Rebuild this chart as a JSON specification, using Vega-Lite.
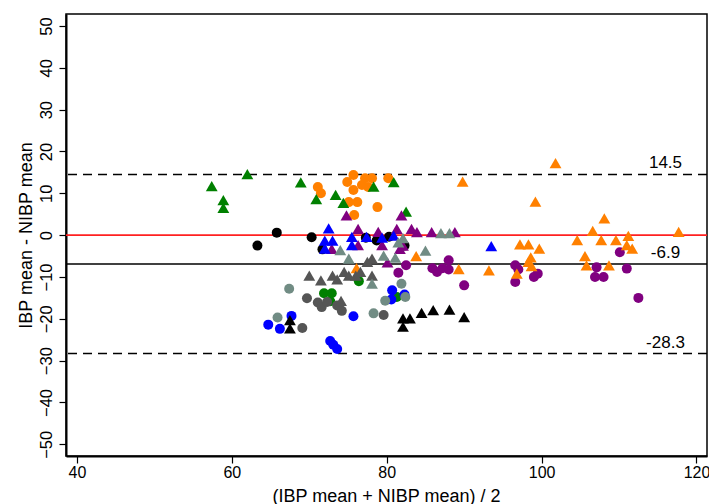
{
  "$schema": "https://vega.github.io/schema/vega-lite/v6.json",
  "width": 641,
  "height": 442,
  "autosize": {"type": "none"},
  "padding": {"left": 66, "top": 14, "right": 2, "bottom": 48},
  "config": {
    "view": {"stroke": "#000000", "strokeWidth": 1.5},
    "font": "Liberation Sans"
  },
  "datasets": {
    "refs": [
      {"y": 14.5, "label": "14.5", "kind": "limit"},
      {"y": -6.9, "label": "-6.9", "kind": "mean"},
      {"y": -28.3, "label": "-28.3", "kind": "limit"},
      {"y": 0, "label": "", "kind": "zero"}
    ],
    "pts": [
      {"x": 57.4, "y": 11.7, "g": "green", "s": "tri"},
      {"x": 62.0, "y": 14.6, "g": "green", "s": "tri"},
      {"x": 58.9, "y": 8.4, "g": "green", "s": "tri"},
      {"x": 58.9, "y": 6.5, "g": "green", "s": "tri"},
      {"x": 68.9, "y": 12.6, "g": "green", "s": "tri"},
      {"x": 70.9, "y": 8.6, "g": "green", "s": "tri"},
      {"x": 73.4, "y": 9.6, "g": "green", "s": "tri"},
      {"x": 74.4, "y": 7.7, "g": "green", "s": "tri"},
      {"x": 78.3, "y": 11.6, "g": "green", "s": "tri"},
      {"x": 80.9, "y": 12.7, "g": "green", "s": "tri"},
      {"x": 82.5, "y": 5.6, "g": "green", "s": "tri"},
      {"x": 71.9, "y": -13.9, "g": "green", "s": "circ"},
      {"x": 72.9, "y": -13.9, "g": "green", "s": "circ"},
      {"x": 72.7, "y": -15.8, "g": "green", "s": "circ"},
      {"x": 76.4, "y": -11.0, "g": "green", "s": "circ"},
      {"x": 81.3, "y": -14.8, "g": "green", "s": "circ"},
      {"x": 71.1, "y": 11.5, "g": "orange", "s": "circ"},
      {"x": 71.5, "y": 10.0, "g": "orange", "s": "circ"},
      {"x": 75.7, "y": 14.4, "g": "orange", "s": "circ"},
      {"x": 74.9, "y": 12.7, "g": "orange", "s": "circ"},
      {"x": 77.2, "y": 13.6, "g": "orange", "s": "circ"},
      {"x": 78.1, "y": 13.6, "g": "orange", "s": "circ"},
      {"x": 80.2, "y": 13.6, "g": "orange", "s": "circ"},
      {"x": 76.8, "y": 12.0, "g": "orange", "s": "circ"},
      {"x": 77.6, "y": 11.5, "g": "orange", "s": "circ"},
      {"x": 75.7, "y": 10.8, "g": "orange", "s": "circ"},
      {"x": 75.1, "y": 7.9, "g": "orange", "s": "circ"},
      {"x": 76.2, "y": 7.9, "g": "orange", "s": "circ"},
      {"x": 78.8, "y": 6.7, "g": "orange", "s": "circ"},
      {"x": 75.8, "y": 4.8, "g": "orange", "s": "circ"},
      {"x": 89.8, "y": 12.8, "g": "orange", "s": "tri"},
      {"x": 101.8, "y": 17.2, "g": "orange", "s": "tri"},
      {"x": 99.2, "y": 8.0, "g": "orange", "s": "tri"},
      {"x": 108.1, "y": 4.0, "g": "orange", "s": "tri"},
      {"x": 106.6, "y": 1.0, "g": "orange", "s": "tri"},
      {"x": 104.6, "y": -1.2, "g": "orange", "s": "tri"},
      {"x": 107.7, "y": -1.2, "g": "orange", "s": "tri"},
      {"x": 109.6, "y": -1.2, "g": "orange", "s": "tri"},
      {"x": 111.2, "y": -0.2, "g": "orange", "s": "tri"},
      {"x": 111.0, "y": -2.4, "g": "orange", "s": "tri"},
      {"x": 111.7, "y": -3.2, "g": "orange", "s": "tri"},
      {"x": 117.7, "y": 0.8, "g": "orange", "s": "tri"},
      {"x": 97.2, "y": -2.2, "g": "orange", "s": "tri"},
      {"x": 98.3, "y": -2.2, "g": "orange", "s": "tri"},
      {"x": 99.7, "y": -3.2, "g": "orange", "s": "tri"},
      {"x": 98.6, "y": -5.3, "g": "orange", "s": "tri"},
      {"x": 98.3, "y": -6.4, "g": "orange", "s": "tri"},
      {"x": 98.7, "y": -7.4, "g": "orange", "s": "tri"},
      {"x": 96.8, "y": -9.2, "g": "orange", "s": "tri"},
      {"x": 93.2, "y": -8.4, "g": "orange", "s": "tri"},
      {"x": 105.6, "y": -5.0, "g": "orange", "s": "tri"},
      {"x": 105.8, "y": -7.2, "g": "orange", "s": "tri"},
      {"x": 108.7, "y": -7.2, "g": "orange", "s": "tri"},
      {"x": 89.3, "y": -8.1, "g": "orange", "s": "tri"},
      {"x": 83.8, "y": -5.0, "g": "orange", "s": "tri"},
      {"x": 76.1, "y": -7.9, "g": "orange", "s": "tri"},
      {"x": 90.0, "y": -12.0, "g": "purple", "s": "circ"},
      {"x": 96.6, "y": -7.2, "g": "purple", "s": "circ"},
      {"x": 97.0, "y": -8.2, "g": "purple", "s": "circ"},
      {"x": 96.6, "y": -11.2, "g": "purple", "s": "circ"},
      {"x": 99.0, "y": -10.0, "g": "purple", "s": "circ"},
      {"x": 99.5, "y": -9.2, "g": "purple", "s": "circ"},
      {"x": 107.1, "y": -7.7, "g": "purple", "s": "circ"},
      {"x": 106.9, "y": -10.0, "g": "purple", "s": "circ"},
      {"x": 108.0, "y": -10.0, "g": "purple", "s": "circ"},
      {"x": 110.1, "y": -4.1, "g": "purple", "s": "circ"},
      {"x": 111.0, "y": -8.0, "g": "purple", "s": "circ"},
      {"x": 112.5, "y": -15.0, "g": "purple", "s": "circ"},
      {"x": 88.0, "y": -6.0, "g": "purple", "s": "circ"},
      {"x": 82.5, "y": -7.2, "g": "purple", "s": "circ"},
      {"x": 81.5, "y": -9.0, "g": "purple", "s": "circ"},
      {"x": 85.9, "y": -7.9, "g": "purple", "s": "circ"},
      {"x": 86.5, "y": -8.8, "g": "purple", "s": "circ"},
      {"x": 87.2, "y": -7.9, "g": "purple", "s": "circ"},
      {"x": 88.0, "y": -8.2, "g": "purple", "s": "circ"},
      {"x": 74.8, "y": 4.7, "g": "purple", "s": "tri"},
      {"x": 81.9, "y": 4.7, "g": "purple", "s": "tri"},
      {"x": 76.3, "y": 1.5, "g": "purple", "s": "tri"},
      {"x": 78.9, "y": 0.8, "g": "purple", "s": "tri"},
      {"x": 81.3, "y": 1.5, "g": "purple", "s": "tri"},
      {"x": 83.2, "y": 1.5, "g": "purple", "s": "tri"},
      {"x": 83.9, "y": 0.7, "g": "purple", "s": "tri"},
      {"x": 85.8, "y": 0.7, "g": "purple", "s": "tri"},
      {"x": 88.8, "y": 0.7, "g": "purple", "s": "tri"},
      {"x": 72.9, "y": -3.3, "g": "purple", "s": "tri"},
      {"x": 76.3, "y": -2.4, "g": "purple", "s": "tri"},
      {"x": 79.4, "y": -2.4, "g": "purple", "s": "tri"},
      {"x": 82.1, "y": -2.5, "g": "purple", "s": "tri"},
      {"x": 81.7, "y": -3.3, "g": "purple", "s": "tri"},
      {"x": 80.1, "y": -6.5, "g": "purple", "s": "tri"},
      {"x": 72.5, "y": 1.6, "g": "blue", "s": "tri"},
      {"x": 72.0, "y": -1.3, "g": "blue", "s": "tri"},
      {"x": 73.0, "y": -1.3, "g": "blue", "s": "tri"},
      {"x": 72.0, "y": -3.2, "g": "blue", "s": "tri"},
      {"x": 75.5, "y": -0.4, "g": "blue", "s": "tri"},
      {"x": 75.5, "y": -2.4, "g": "blue", "s": "tri"},
      {"x": 77.4, "y": -0.4, "g": "blue", "s": "tri"},
      {"x": 79.4, "y": -0.6, "g": "blue", "s": "tri"},
      {"x": 80.9, "y": -0.1, "g": "blue", "s": "tri"},
      {"x": 93.5, "y": -2.6, "g": "blue", "s": "tri"},
      {"x": 64.7, "y": -21.4, "g": "blue", "s": "circ"},
      {"x": 66.2, "y": -22.4, "g": "blue", "s": "circ"},
      {"x": 67.7, "y": -19.3, "g": "blue", "s": "circ"},
      {"x": 72.7, "y": -25.3, "g": "blue", "s": "circ"},
      {"x": 73.1, "y": -26.2, "g": "blue", "s": "circ"},
      {"x": 73.6, "y": -27.2, "g": "blue", "s": "circ"},
      {"x": 75.7, "y": -19.4, "g": "blue", "s": "circ"},
      {"x": 80.7, "y": -13.2, "g": "blue", "s": "circ"},
      {"x": 80.6, "y": -15.4, "g": "blue", "s": "circ"},
      {"x": 82.3, "y": -14.2, "g": "blue", "s": "circ"},
      {"x": 63.3, "y": -2.5, "g": "black", "s": "circ"},
      {"x": 65.8, "y": 0.6, "g": "black", "s": "circ"},
      {"x": 70.3, "y": -0.5, "g": "black", "s": "circ"},
      {"x": 71.7, "y": -3.4, "g": "black", "s": "circ"},
      {"x": 77.3, "y": -0.6, "g": "black", "s": "circ"},
      {"x": 78.7, "y": -1.3, "g": "black", "s": "circ"},
      {"x": 80.3, "y": -0.4, "g": "black", "s": "circ"},
      {"x": 82.3, "y": -2.5, "g": "black", "s": "circ"},
      {"x": 67.5, "y": -20.3, "g": "black", "s": "tri"},
      {"x": 67.5, "y": -22.3, "g": "black", "s": "tri"},
      {"x": 82.1, "y": -19.9, "g": "black", "s": "tri"},
      {"x": 83.0, "y": -19.9, "g": "black", "s": "tri"},
      {"x": 82.1, "y": -21.9, "g": "black", "s": "tri"},
      {"x": 84.5, "y": -18.6, "g": "black", "s": "tri"},
      {"x": 86.0, "y": -17.9, "g": "black", "s": "tri"},
      {"x": 88.1, "y": -17.8, "g": "black", "s": "tri"},
      {"x": 90.0, "y": -19.6, "g": "black", "s": "tri"},
      {"x": 70.0, "y": -9.7, "g": "dgray", "s": "tri"},
      {"x": 71.5, "y": -10.8, "g": "dgray", "s": "tri"},
      {"x": 73.0, "y": -9.7, "g": "dgray", "s": "tri"},
      {"x": 73.6, "y": -10.6, "g": "dgray", "s": "tri"},
      {"x": 74.5, "y": -8.8, "g": "dgray", "s": "tri"},
      {"x": 75.1, "y": -9.7, "g": "dgray", "s": "tri"},
      {"x": 76.0, "y": -9.7, "g": "dgray", "s": "tri"},
      {"x": 76.6, "y": -8.8, "g": "dgray", "s": "tri"},
      {"x": 77.5, "y": -6.4, "g": "dgray", "s": "tri"},
      {"x": 78.1, "y": -5.6, "g": "dgray", "s": "tri"},
      {"x": 78.1, "y": -9.7, "g": "dgray", "s": "tri"},
      {"x": 74.1, "y": -15.7, "g": "dgray", "s": "tri"},
      {"x": 69.7, "y": -15.1, "g": "dgray", "s": "circ"},
      {"x": 71.1, "y": -16.1, "g": "dgray", "s": "circ"},
      {"x": 71.6, "y": -17.2, "g": "dgray", "s": "circ"},
      {"x": 72.3, "y": -16.0, "g": "dgray", "s": "circ"},
      {"x": 73.6, "y": -16.8, "g": "dgray", "s": "circ"},
      {"x": 74.2, "y": -18.1, "g": "dgray", "s": "circ"},
      {"x": 69.1, "y": -22.2, "g": "dgray", "s": "circ"},
      {"x": 79.6, "y": -19.1, "g": "dgray", "s": "circ"},
      {"x": 74.0, "y": -3.6, "g": "tgray", "s": "tri"},
      {"x": 75.1, "y": -5.6, "g": "tgray", "s": "tri"},
      {"x": 79.6, "y": -4.9, "g": "tgray", "s": "tri"},
      {"x": 81.1, "y": -5.4, "g": "tgray", "s": "tri"},
      {"x": 82.1, "y": -0.7, "g": "tgray", "s": "tri"},
      {"x": 81.5, "y": -1.7, "g": "tgray", "s": "tri"},
      {"x": 85.0, "y": -3.7, "g": "tgray", "s": "tri"},
      {"x": 87.0, "y": 0.5, "g": "tgray", "s": "tri"},
      {"x": 88.1, "y": 0.5, "g": "tgray", "s": "tri"},
      {"x": 78.1, "y": -11.6, "g": "tgray", "s": "tri"},
      {"x": 67.4, "y": -12.8, "g": "tgray", "s": "circ"},
      {"x": 65.9, "y": -19.7, "g": "tgray", "s": "circ"},
      {"x": 78.3, "y": -18.7, "g": "tgray", "s": "circ"},
      {"x": 81.9, "y": -11.6, "g": "tgray", "s": "circ"},
      {"x": 79.8, "y": -15.7, "g": "tgray", "s": "circ"},
      {"x": 82.4, "y": -14.8, "g": "tgray", "s": "circ"}
    ]
  },
  "layer": [
    {
      "data": {"name": "refs"},
      "transform": [{"filter": "datum.kind === 'zero'"}],
      "mark": {"type": "rule", "color": "#ff2020", "strokeWidth": 1.8},
      "encoding": {
        "y": {
          "field": "y", "type": "quantitative",
          "scale": {"domain": [-52.8, 52.87], "nice": false, "zero": false},
          "axis": {
            "values": [-50, -40, -30, -20, -10, 0, 10, 20, 30, 40, 50],
            "title": "IBP mean - NIBP mean",
            "grid": false,
            "domainColor": "#000000", "domainWidth": 2,
            "tickColor": "#000000", "tickWidth": 1.2, "tickSize": 7,
            "labelAngle": -90, "labelAlign": "center", "labelBaseline": "alphabetic",
            "labelPadding": 8, "labelFontSize": 16.5, "labelColor": "#000000",
            "labelFont": "Liberation Sans",
            "titleFont": "Liberation Sans", "titleFontSize": 18, "titleFontWeight": "normal",
            "titleColor": "#000000", "titleAngle": -90, "titleAlign": "center",
            "titleBaseline": "alphabetic", "titleX": -35, "titleY": 221
          }
        }
      }
    },
    {
      "data": {"name": "refs"},
      "transform": [{"filter": "datum.kind === 'mean'"}],
      "mark": {"type": "rule", "color": "#000000", "strokeWidth": 1.5},
      "encoding": {"y": {"field": "y", "type": "quantitative", "title": "IBP mean - NIBP mean"}}
    },
    {
      "data": {"name": "refs"},
      "transform": [{"filter": "datum.kind === 'limit'"}],
      "mark": {"type": "rule", "color": "#000000", "strokeWidth": 1.5, "strokeDash": [9, 6]},
      "encoding": {"y": {"field": "y", "type": "quantitative", "title": "IBP mean - NIBP mean"}}
    },
    {
      "data": {"name": "refs"},
      "transform": [{"filter": "datum.kind !== 'zero'"}],
      "mark": {"type": "text", "align": "center", "baseline": "alphabetic", "dy": -6, "fontSize": 17, "font": "Liberation Sans", "color": "#000000"},
      "encoding": {
        "x": {"datum": 116, "type": "quantitative"},
        "y": {"field": "y", "type": "quantitative", "title": "IBP mean - NIBP mean"},
        "text": {"field": "label"}
      }
    },
    {
      "data": {"name": "pts"},
      "transform": [{"filter": "datum.s === 'circ'"}],
      "mark": {"type": "point", "shape": "circle", "filled": true, "opacity": 1, "size": 100},
      "encoding": {
        "x": {
          "field": "x", "type": "quantitative",
          "scale": {"domain": [38.58, 121.36], "nice": false, "zero": false},
          "axis": {
            "values": [40, 60, 80, 100, 120],
            "title": "(IBP mean + NIBP mean) / 2",
            "grid": false,
            "domainColor": "#000000", "domainWidth": 2,
            "tickColor": "#000000", "tickWidth": 1.2, "tickSize": 7,
            "labelBaseline": "alphabetic", "labelPadding": 14,
            "labelFontSize": 16, "labelColor": "#000000", "labelFont": "Liberation Sans",
            "titleFont": "Liberation Sans", "titleFontSize": 18, "titleFontWeight": "normal",
            "titleColor": "#000000", "titleBaseline": "alphabetic", "titleY": 45, "titleX": 320,
            "titleAnchor": "middle"
          }
        },
        "y": {"field": "y", "type": "quantitative", "title": "IBP mean - NIBP mean"},
        "color": {
          "field": "g", "type": "nominal", "legend": null,
          "scale": {
            "domain": ["green", "orange", "purple", "blue", "black", "dgray", "tgray"],
            "range": ["#008000", "#ff8000", "#800080", "#0000ff", "#000000", "#555555", "#718c84"]
          }
        }
      }
    },
    {
      "data": {"name": "pts"},
      "transform": [{"filter": "datum.s === 'tri'"}],
      "mark": {"type": "point", "shape": "triangle-up", "filled": true, "opacity": 1, "size": 140},
      "encoding": {
        "x": {"field": "x", "type": "quantitative", "title": "(IBP mean + NIBP mean) / 2"},
        "y": {"field": "y", "type": "quantitative", "title": "IBP mean - NIBP mean"},
        "color": {"field": "g", "type": "nominal", "legend": null}
      }
    }
  ]
}
